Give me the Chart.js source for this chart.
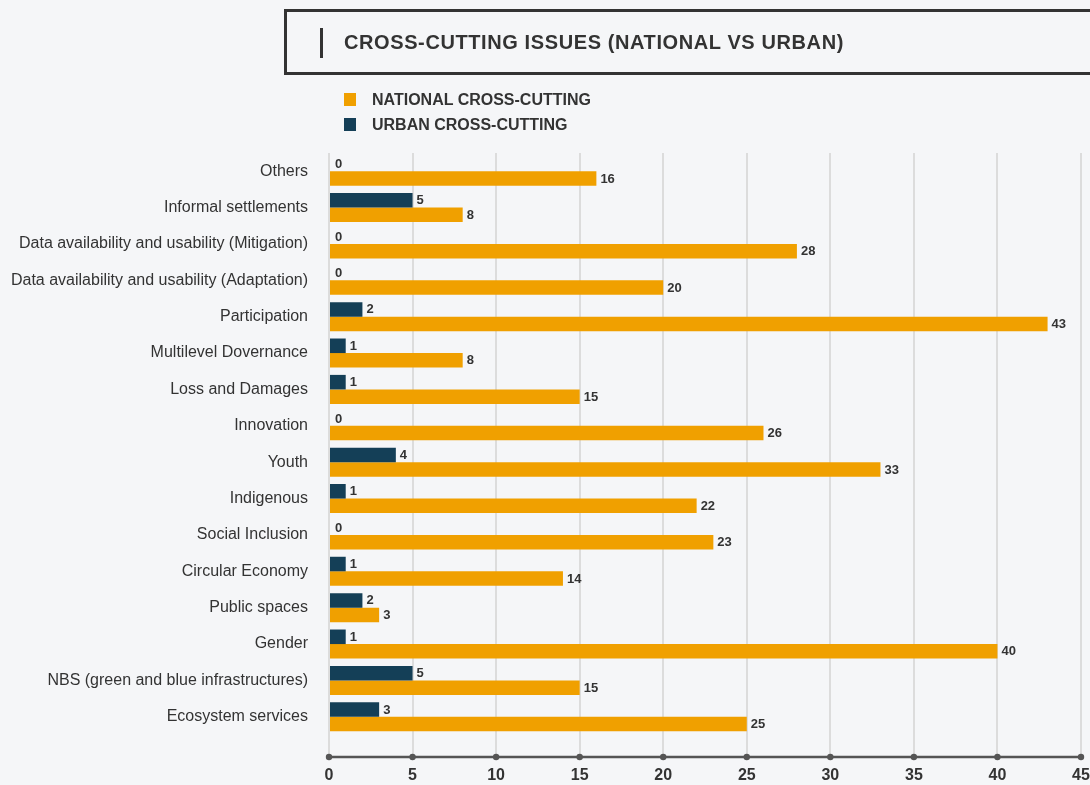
<!DOCTYPE html>
<html>
<head>
<meta charset="utf-8">
<script src="https://cdn.jsdelivr.net/npm/chart.js@4"></script>
<style>
  html, body { margin: 0; padding: 0; background: #f5f6f8; }
  body { width: 1090px; height: 785px; position: relative; overflow: hidden; font-family: "Liberation Sans", Arial, sans-serif; }
  #wrap { position: absolute; left: 0; top: 0; width: 1090px; height: 785px; }
  .title-box { position: absolute; left: 284px; top: 9px; width: 820px; height: 60px; border: 3px solid #333; box-sizing: content-box; }
  .title-bar { position: absolute; left: 320px; top: 28px; width: 3px; height: 30px; background: #333; }
  .title { position: absolute; left: 344px; top: 31px; font-weight: bold; font-size: 20px; color: #333; letter-spacing: 0.6px; white-space: nowrap; }
  .legend { position: absolute; left: 344px; top: 87px; }
  .legend-item { display: flex; align-items: center; height: 25px; font-weight: bold; font-size: 16px; color: #333; white-space: nowrap; }
  .swatch { width: 12px; height: 13px; margin-right: 16px; }
</style>
</head>
<body>
<div id="wrap"><canvas id="chart" width="1090" height="785"></canvas></div>
<div class="title-box"></div>
<div class="title-bar"></div>
<div class="title">CROSS-CUTTING ISSUES (NATIONAL VS URBAN)</div>
<div class="legend" id="legend"></div>
<script>
// Issue categories, top to bottom
const categories = [
  "Others",
  "Informal settlements",
  "Data availability and usability (Mitigation)",
  "Data availability and usability (Adaptation)",
  "Participation",
  "Multilevel Dovernance",
  "Loss and Damages",
  "Innovation",
  "Youth",
  "Indigenous",
  "Social Inclusion",
  "Circular Economy",
  "Public spaces",
  "Gender",
  "NBS (green and blue infrastructures)",
  "Ecosystem services"
];

// Counts per category
const urbanValues    = [0, 5, 0, 0, 2, 1, 1, 0, 4, 1, 0, 1, 2, 1, 5, 3];
const nationalValues = [16, 8, 28, 20, 43, 8, 15, 26, 33, 22, 23, 14, 3, 40, 15, 25];

// Axis ticks
const xTicks = [0, 5, 10, 15, 20, 25, 30, 35, 40, 45];

const NATIONAL_COLOR = "#f0a000";
const URBAN_COLOR = "#143f57";
const TEXT_COLOR = "#333333";
const FONT = "'Liberation Sans', Arial, sans-serif";

// HTML legend (national listed first)
const legendItems = [
  { label: "NATIONAL CROSS-CUTTING", color: NATIONAL_COLOR },
  { label: "URBAN CROSS-CUTTING", color: URBAN_COLOR }
];
const legendEl = document.getElementById("legend");
legendItems.forEach(it => {
  const row = document.createElement("div");
  row.className = "legend-item";
  const sw = document.createElement("span");
  sw.className = "swatch";
  sw.style.background = it.color;
  const tx = document.createElement("span");
  tx.textContent = it.label;
  row.appendChild(sw);
  row.appendChild(tx);
  legendEl.appendChild(row);
});

const AXIS_DROP = 22; // distance from plot bottom to the axis line

// Value labels at the end of each bar
const valueLabels = {
  id: "valueLabels",
  afterDatasetsDraw(chart) {
    const ctx = chart.ctx;
    ctx.save();
    ctx.font = "bold 13px " + FONT;
    ctx.fillStyle = TEXT_COLOR;
    ctx.textAlign = "left";
    ctx.textBaseline = "middle";
    chart.data.datasets.forEach((ds, di) => {
      const meta = chart.getDatasetMeta(di);
      meta.data.forEach((bar, i) => {
        const v = ds.data[i];
        const x = Math.max(bar.x, bar.base + 1);
        ctx.fillText(String(v), x + 4, bar.y + 0.5);
      });
    });
    ctx.restore();
  }
};

// Axis line with round markers at each tick
const dottedAxis = {
  id: "dottedAxis",
  afterDraw(chart) {
    const ctx = chart.ctx;
    const xs = chart.scales.x;
    const y = chart.chartArea.bottom + AXIS_DROP;
    ctx.save();
    ctx.strokeStyle = "#555";
    ctx.lineWidth = 2.5;
    ctx.beginPath();
    ctx.moveTo(xs.getPixelForValue(xTicks[0]), y);
    ctx.lineTo(xs.getPixelForValue(xTicks[xTicks.length - 1]), y);
    ctx.stroke();
    ctx.fillStyle = "#555";
    xTicks.forEach(t => {
      ctx.beginPath();
      ctx.arc(xs.getPixelForValue(t), y, 3.2, 0, Math.PI * 2);
      ctx.fill();
    });
    ctx.restore();
  }
};

new Chart(document.getElementById("chart"), {
  type: "bar",
  data: {
    labels: categories,
    datasets: [
      { label: "URBAN CROSS-CUTTING", data: urbanValues, backgroundColor: URBAN_COLOR, minBarLength: 1 },
      { label: "NATIONAL CROSS-CUTTING", data: nationalValues, backgroundColor: NATIONAL_COLOR, minBarLength: 1 }
    ]
  },
  options: {
    indexAxis: "y",
    responsive: false,
    animation: false,
    events: [],
    layout: { autoPadding: false, padding: { top: 153, right: 9, bottom: 0, left: 0 } },
    datasets: { bar: { categoryPercentage: 0.8, barPercentage: 1.0 } },
    plugins: { legend: { display: false }, tooltip: { enabled: false }, title: { display: false } },
    scales: {
      x: {
        min: 0, max: 45,
        afterBuildTicks(scale) { scale.ticks = xTicks.map(v => ({ value: v })); },
        afterFit(scale) {
          scale.height = 50;
          // let the last tick label run to the canvas edge
          scale.paddingLeft = 0;
          scale.paddingRight = 0;
        },
        grid: { color: "#dcdcdc", lineWidth: 2, drawTicks: true, tickLength: AXIS_DROP, tickColor: "#dcdcdc", tickWidth: 2 },
        border: { display: false },
        ticks: { padding: 9, color: TEXT_COLOR, font: { family: FONT, size: 16, weight: "bold" } }
      },
      y: {
        afterFit(scale) { scale.width = 329; },
        grid: { display: false, drawTicks: false },
        border: { display: false },
        ticks: { padding: 21, color: TEXT_COLOR, font: { family: FONT, size: 16 } }
      }
    }
  },
  plugins: [valueLabels, dottedAxis]
});
</script>
</body>
</html>
